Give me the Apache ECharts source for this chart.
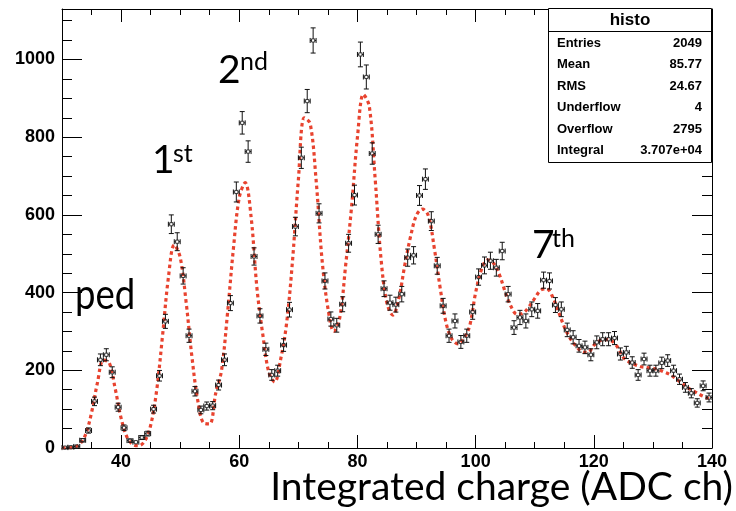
<!DOCTYPE html>
<html>
<head>
<meta charset="utf-8">
<script src="https://cdn.jsdelivr.net/npm/echarts@6/dist/echarts.min.js"></script>
<style>
  html, body { margin: 0; padding: 0; background: #fff; }
  #chart { width: 736px; height: 511px; }
</style>
</head>
<body>
<div id="chart"></div>
<script>
// histogram bins (centre of each 1-ch bin)
var binCenters = [30.5, 31.5, 32.5, 33.5, 34.5, 35.5, 36.5, 37.5, 38.5, 39.5,
  40.5, 41.5, 42.5, 43.5, 44.5, 45.5, 46.5, 47.5, 48.5, 49.5,
  50.5, 51.5, 52.5, 53.5, 54.5, 55.5, 56.5, 57.5, 58.5, 59.5,
  60.5, 61.5, 62.5, 63.5, 64.5, 65.5, 66.5, 67.5, 68.5, 69.5,
  70.5, 71.5, 72.5, 73.5, 74.5, 75.5, 76.5, 77.5, 78.5, 79.5,
  80.5, 81.5, 82.5, 83.5, 84.5, 85.5, 86.5, 87.5, 88.5, 89.5,
  90.5, 91.5, 92.5, 93.5, 94.5, 95.5, 96.5, 97.5, 98.5, 99.5,
  100.5, 101.5, 102.5, 103.5, 104.5, 105.5, 106.5, 107.5, 108.5, 109.5,
  110.5, 111.5, 112.5, 113.5, 114.5, 115.5, 116.5, 117.5, 118.5, 119.5,
  120.5, 121.5, 122.5, 123.5, 124.5, 125.5, 126.5, 127.5, 128.5, 129.5,
  130.5, 131.5, 132.5, 133.5, 134.5, 135.5, 136.5, 137.5, 138.5, 139.5];
var counts = [1, 2, 4, 20, 45, 120, 227, 240, 195, 105,
  52, 19, 15, 27, 37, 100, 186, 326, 576, 531,
  443, 289, 146, 98, 108, 109, 162, 227, 373, 659,
  837, 763, 493, 340, 254, 188, 199, 265, 356, 570,
  747, 893, 1049, 604, 430, 332, 316, 370, 527, 651,
  1013, 955, 758, 550, 410, 374, 369, 396, 490, 496,
  650, 692, 584, 469, 366, 289, 327, 273, 289, 350,
  440, 470, 482, 464, 507, 396, 310, 336, 327, 357,
  353, 432, 430, 368, 357, 304, 285, 263, 259, 240,
  272, 280, 280, 283, 242, 246, 220, 188, 229, 199,
  199, 219, 225, 199, 177, 156, 141, 116, 160, 130];

// fit curve
var fitX = [30, 31, 32, 33, 34, 35, 36, 37, 38, 39,
  40, 41, 42, 43, 44, 45, 46, 47, 48, 49,
  50, 51, 52, 53, 54, 55, 56, 57, 58, 59,
  60, 61, 62, 63, 64, 65, 66, 67, 68, 69,
  70, 71, 72, 73, 74, 75, 76, 77, 78, 79,
  80, 81, 82, 83, 84, 85, 86, 87, 88, 89,
  90, 91, 92, 93, 94, 95, 96, 97, 98, 99,
  100, 101, 102, 103, 104, 105, 106, 107, 108, 109,
  110, 111, 112, 113, 114, 115, 116, 117, 118, 119,
  120, 121, 122, 123, 124, 125, 126, 127, 128, 129,
  130, 131, 132, 133, 134, 135, 136, 137, 138, 139, 140];
var fitY = [0, 0.3, 2, 10, 35, 91, 168, 226, 219, 153,
  77, 28, 9, 6, 18, 58, 146, 287, 438, 523,
  491, 376, 233, 120, 64, 62, 140, 200, 345, 512,
  645, 683, 595, 410, 290, 195, 170, 228, 320, 480,
  690, 850, 835, 690, 486, 360, 300, 335, 470, 620,
  800, 910, 880, 692, 485, 372, 342, 385, 470, 545,
  600, 615, 598, 515, 412, 322, 280, 268, 282, 315,
  400, 460, 484, 476, 447, 402, 364, 344, 347, 363,
  385, 406, 410, 390, 352, 312, 282, 262, 248, 246,
  264, 276, 279, 276, 260, 233, 221, 214, 209, 207,
  205, 201, 195, 188, 177, 166, 154, 146, 137, 130, 125];

var xMajor = [40, 60, 80, 100, 120, 140];
var statsRows = [['Entries', '2049'], ['Mean', '85.77'], ['RMS', '24.67'],
  ['Underflow', '4'], ['Overflow', '2795'], ['Integral', '3.707e+04']];

var xMin = 30, xMax = 140, yMin = 0, yMax = 1130;

var histData = [];
for (var i = 0; i < binCenters.length; i++) {
  histData.push([binCenters[i], counts[i], Math.sqrt(counts[i])]);
}
var fitData = [];
for (var j = 0; j < fitX.length; j++) fitData.push([fitX[j], fitY[j]]);

function seg(x1, y1, x2, y2) {
  return { type: 'line', shape: { x1: x1, y1: y1, x2: x2, y2: y2 },
    style: { stroke: '#111', lineWidth: 1 } };
}

function renderPoint(params, api) {
  var x = api.value(0), y = api.value(1), e = api.value(2);
  var c = api.coord([x, y]);
  var t = api.coord([x, y + e]);
  var b = api.coord([x, Math.max(y - e, 0)]);
  var l = api.coord([x - 0.5, y]);
  var r = api.coord([x + 0.5, y]);
  var s = 1.6, cap = 2.5;
  var kids = [];
  if (t[1] < c[1] - s) {
    kids.push(seg(c[0], c[1] - s, c[0], t[1]));
    kids.push(seg(c[0] - cap, t[1], c[0] + cap, t[1]));
  }
  if (b[1] > c[1] + s) {
    kids.push(seg(c[0], c[1] + s, c[0], b[1]));
    kids.push(seg(c[0] - cap, b[1], c[0] + cap, b[1]));
  }
  kids.push(seg(l[0], c[1], c[0] - s, c[1]));
  kids.push(seg(c[0] + s, c[1], r[0], c[1]));
  kids.push(seg(l[0], c[1] - cap, l[0], c[1] + cap));
  kids.push(seg(r[0], c[1] - cap, r[0], c[1] + cap));
  kids.push({ type: 'rect', shape: { x: c[0] - s, y: c[1] - s, width: 2 * s, height: 2 * s },
    style: { stroke: '#222', fill: 'none', lineWidth: 0.9 } });
  return { type: 'group', children: kids };
}

var labelFont = { fontFamily: 'Liberation Sans', fontWeight: 'bold', fontSize: 18, color: '#000' };

function xAx(pos, major) {
  var a = {
    type: 'value', min: xMin, max: xMax, position: pos,
    axisLine: { show: !major, onZero: false, lineStyle: { color: '#000', width: 1 } },
    splitLine: { show: false },
    axisTick: { inside: true, length: major ? 13 : 6, lineStyle: { color: '#000' } },
    axisLabel: { show: false }
  };
  if (major) {
    a.axisTick.customValues = xMajor;
    if (pos === 'bottom') {
      a.axisLabel = Object.assign({ show: true, margin: 5, customValues: xMajor,
        formatter: function (v) { return String(v); } }, labelFont);
    }
  } else {
    a.interval = 5;
  }
  return a;
}
function yAx(pos, major) {
  var a = {
    type: 'value', min: yMin, max: yMax, position: pos,
    interval: major ? 200 : 50,
    axisLine: { show: !major, onZero: false, lineStyle: { color: '#000', width: 1 } },
    splitLine: { show: false },
    axisTick: { inside: true, length: major ? 20 : 10, lineStyle: { color: '#000' } },
    axisLabel: { show: false }
  };
  if (major && pos === 'left') {
    a.axisLabel = Object.assign({ show: true, margin: 7, showMaxLabel: false,
      formatter: function (v) { return String(v); } }, labelFont);
  }
  return a;
}

var graphics = [
  { type: 'text', x: 733, y: 487, z: 10,
    style: { text: 'Integrated charge (ADC ch)', font: '39px Lato', fill: '#000',
      align: 'right', verticalAlign: 'middle' } },
  { type: 'text', x: 75, y: 295, scaleX: 0.85, z: 10,
    style: { text: 'ped', font: '43px Lato', fill: '#000', verticalAlign: 'middle' } },
  { type: 'text', x: 152, y: 160, z: 10,
    style: { text: '1', font: '39px Lato', fill: '#000', verticalAlign: 'middle' } },
  { type: 'text', x: 173, y: 154, z: 10,
    style: { text: 'st', font: '25px Lato', fill: '#000', verticalAlign: 'middle' } },
  { type: 'text', x: 218, y: 70, z: 10,
    style: { text: '2', font: '39px Lato', fill: '#000', verticalAlign: 'middle' } },
  { type: 'text', x: 240, y: 62, z: 10,
    style: { text: 'nd', font: '25px Lato', fill: '#000', verticalAlign: 'middle' } },
  { type: 'text', x: 532, y: 245, z: 10,
    style: { text: '7', font: '39px Lato', fill: '#000', verticalAlign: 'middle' } },
  { type: 'text', x: 552, y: 239, z: 10,
    style: { text: 'th', font: '25px Lato', fill: '#000', verticalAlign: 'middle' } },
  // stats box
  { type: 'rect', z: 20, shape: { x: 548.5, y: 8.5, width: 163, height: 154 },
    style: { fill: '#fff', stroke: '#000', lineWidth: 1 } },
  { type: 'line', z: 21, shape: { x1: 548.5, y1: 31.5, x2: 711.5, y2: 31.5 },
    style: { stroke: '#000', lineWidth: 1 } },
  { type: 'text', z: 22, x: 630, y: 20,
    style: { text: 'histo', font: 'bold 17px "Liberation Sans"', fill: '#000',
      align: 'center', verticalAlign: 'middle' } }
];
for (var k = 0; k < statsRows.length; k++) {
  var ry = 43 + k * 21.5;
  graphics.push({ type: 'text', z: 22, x: 557, y: ry,
    style: { text: statsRows[k][0], font: 'bold 13px "Liberation Sans"', fill: '#000', verticalAlign: 'middle' } });
  graphics.push({ type: 'text', z: 22, x: 702, y: ry,
    style: { text: statsRows[k][1], font: 'bold 13px "Liberation Sans"', fill: '#000',
      align: 'right', verticalAlign: 'middle' } });
}

var chart = echarts.init(document.getElementById('chart'));
chart.setOption({
  animation: false,
  grid: { left: 62, right: 24, top: 9, bottom: 63, containLabel: false },
  xAxis: [xAx('bottom', false), xAx('bottom', true), xAx('top', false), xAx('top', true)],
  yAxis: [yAx('left', false), yAx('left', true), yAx('right', false), yAx('right', true)],
  series: [
    {
      name: 'fit', type: 'line', data: fitData, smooth: 0.35,
      showSymbol: false, z: 3,
      lineStyle: { color: '#e8432f', width: 3.2, type: [3.5, 3.2], cap: 'butt' }
    },
    {
      name: 'histo', type: 'custom', data: histData, renderItem: renderPoint, z: 4,
      encode: { x: 0, y: 1 }
    }
  ],
  graphic: graphics
});
</script>
</body>
</html>
